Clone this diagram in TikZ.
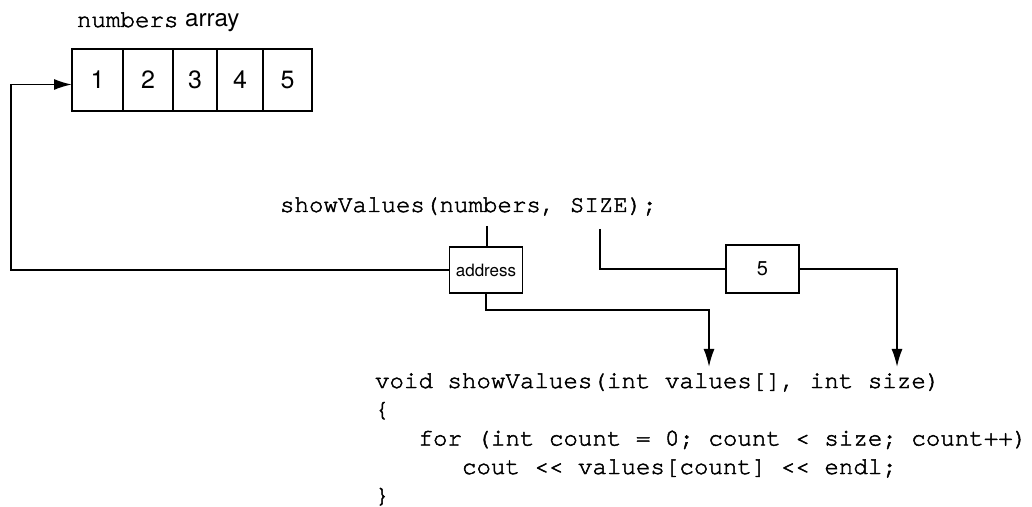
\documentclass[tikz,border=0pt]{standalone}
\usepackage{fontspec}
\setmainfont{TeX Gyre Heros}
\newfontfamily\codefont[UprightFeatures={FakeBold=2}]{TeX Gyre Cursor}
\usetikzlibrary{positioning,arrows.meta}

\begin{document}
\begin{tikzpicture}[x=0.5pt, y=-0.5pt,
      every node/.style={inner sep=0pt, outer sep=0pt},
      cell/.style={draw, line width=0.9pt, minimum height=31pt,
                   font=\fontsize{12.5}{14}\selectfont},
      valbox/.style={draw, line width=0.9pt, minimum width=36.5pt,
                     minimum height=23pt},
      code/.style={anchor=base west, font=\codefont\fontsize{12.08}{14}\selectfont},
      link/.style={line width=0.9pt},
      pass/.style={link, -{Latex[length=9pt,width=5.5pt]}}]
    \useasboundingbox (0,0) rectangle (1032,507);
    % the array, cells side by side
    \node[anchor=base west, font=\fontsize{12.08}{14}\selectfont] (arrlabel)
          at (77,27) {{\codefont numbers} array};
    \node[cell, minimum width=25.5pt] (c1) at (97.5,80) {1};
    \node[cell, minimum width=25pt, right=0pt of c1] (c2) {2};
    \node[cell, minimum width=22pt, right=0pt of c2] (c3) {3};
    \node[cell, minimum width=23pt, right=0pt of c3] (c4) {4};
    \node[cell, minimum width=24.5pt, right=0pt of c4] (c5) {5};
    % the call and what it passes
    \node[code] (call) at (280,212) {showValues(numbers, SIZE);};
    \coordinate (numtip) at (487,226);
    \coordinate (sizetip) at (600,229);
    \node[valbox, font=\fontsize{8.5}{10}\selectfont] (addr) at (486,270) {address};
    \node[valbox, minimum height=24pt, font=\fontsize{10}{11}\selectfont]
          (five) at (762.5,269) {5};
    % the function
    \node[code] (head)  at (375,388)   {void showValues(int values[], int size)};
    \node[code] (open)  at (375,416.5) {\{};
    \node[code] (loop)  at (418.5,445.5) {for (int count = 0; count < size; count++)};
    \node[code] (body)  at (462,474)   {cout << values[count] << endl;};
    \node[code] (close) at (375,502.5) {\}};
    \coordinate (valtip) at (709,367);
    \coordinate (sizearg) at (897,367);
    \coordinate (turn) at (11,0);
    % the address arrow meets cell 1 a little below its middle
    \coordinate (hook) at ([yshift=-2.25pt]c1.west);
    \draw[link] (numtip) -- (numtip |- addr.north);
    \draw[pass] (addr.west) -| (turn |- hook) -- (hook);
    \draw[pass] (addr.south) -- ++(0,17) -| (valtip);
    \draw[link] (sizetip) |- (five.west);
    \draw[pass] (five.east) -| (sizearg);
  \end{tikzpicture}
\end{document}
